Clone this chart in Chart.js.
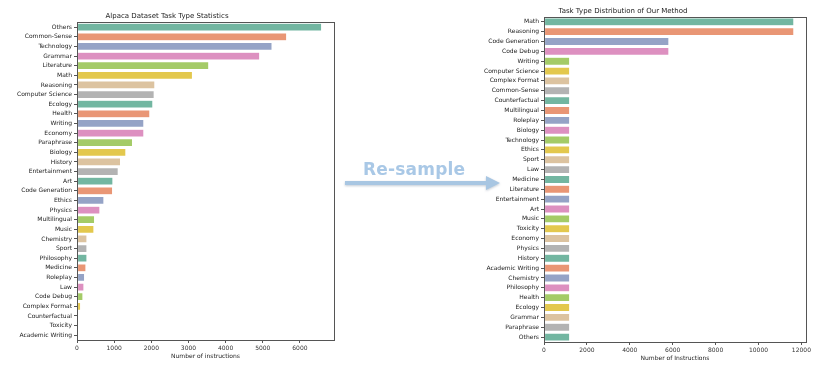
<!DOCTYPE html>
<html>
<head>
<meta charset="utf-8">
<script src="https://cdn.jsdelivr.net/npm/chart.js@4/dist/chart.umd.min.js"></script>
<style>
  body { margin: 0; background: #fff; }
  #wrap { position: relative; width: 834px; height: 372px; overflow: hidden; }
  #leftBox { position: absolute; left: 0; top: 0; width: 340px; height: 372px; }
  #rightBox { position: absolute; left: 440px; top: 0; width: 394px; height: 372px; }
  #resample { position: absolute; left: 363px; top: 159px; font-family: "DejaVu Sans", sans-serif; font-weight: bold;
    font-size: 17px; color: #a9c8e6; letter-spacing: 0.2px; }
  #arrow { position: absolute; left: 340px; top: 172px; }
</style>
</head>
<body>
<div id="wrap">
  <div id="leftBox"><canvas id="leftChart"></canvas></div>
  <div id="rightBox"><canvas id="rightChart"></canvas></div>
  <div id="resample">Re-sample</div>
  <svg id="arrow" width="170" height="24">
    <defs>
      <filter id="sh" x="-10%" y="-50%" width="120%" height="200%">
        <feDropShadow dx="0" dy="1" stdDeviation="1" flood-color="#9aa8b8" flood-opacity="0.6"/>
      </filter>
    </defs>
    <g filter="url(#sh)">
      <rect x="5" y="9" width="145" height="4" fill="#a8c6e2"/>
      <polygon points="146,4 160,11 146,18" fill="#a8c6e2"/>
    </g>
  </svg>
</div>
<script>
var leftLabels = ['Others', 'Common-Sense', 'Technology', 'Grammar', 'Literature', 'Math', 'Reasoning',
  'Computer Science', 'Ecology', 'Health', 'Writing', 'Economy', 'Paraphrase', 'Biology', 'History',
  'Entertainment', 'Art', 'Code Generation', 'Ethics', 'Physics', 'Multilingual', 'Music', 'Chemistry',
  'Sport', 'Philosophy', 'Medicine', 'Roleplay', 'Law', 'Code Debug', 'Complex Format', 'Counterfactual',
  'Toxicity', 'Academic Writing'];
var leftValues = [6586, 5645, 5251, 4919, 3548, 3109, 2097, 2079, 2043, 1962, 1801, 1801, 1496, 1317, 1174,
  1111, 968, 960, 726, 618, 475, 457, 269, 269, 269, 242, 206, 188, 161, 99, 36, 18, 9];
var leftTicks = [0, 1000, 2000, 3000, 4000, 5000, 6000];

var rightLabels = ['Math', 'Reasoning', 'Code Generation', 'Code Debug', 'Writing', 'Computer Science',
  'Complex Format', 'Common-Sense', 'Counterfactual', 'Multilingual', 'Roleplay', 'Biology', 'Technology',
  'Ethics', 'Sport', 'Law', 'Medicine', 'Literature', 'Entertainment', 'Art', 'Music', 'Toxicity', 'Economy',
  'Physics', 'History', 'Academic Writing', 'Chemistry', 'Philosophy', 'Health', 'Ecology', 'Grammar',
  'Paraphrase', 'Others'];
var rightValues = [11650, 11650, 5825, 5825, 1200, 1200, 1200, 1200, 1200, 1200, 1200, 1200, 1200, 1200,
  1200, 1200, 1200, 1200, 1200, 1200, 1200, 1200, 1200, 1200, 1200, 1200, 1200, 1200, 1200, 1200, 1200,
  1200, 1200];
var rightTicks = [0, 2000, 4000, 6000, 8000, 10000, 12000];

var palette = ['#72b6a1', '#e99675', '#95a3c6', '#dd90c0', '#a4cb67', '#e3c84d', '#dcc3a0', '#b3b3b3'];

var frame = {
  id: 'frame',
  afterDraw: function(chart) {
    var a = chart.chartArea, c = chart.ctx;
    c.save();
    c.strokeStyle = '#555';
    c.lineWidth = 1;
    c.strokeRect(Math.round(a.left) + 0.5, Math.round(a.top) + 0.5,
      Math.round(a.right - a.left), Math.round(a.bottom - a.top));
    c.restore();
  }
};

function makeChart(id, labels, values, ticks, xMax, title, opt) {
  var colors = labels.map(function(l, i) { return palette[i % palette.length]; });
  return new Chart(document.getElementById(id), {
    type: 'bar',
    data: {
      labels: labels,
      datasets: [{
        data: values,
        backgroundColor: colors,
        borderColor: '#ffffff',
        borderWidth: 0.6,
        borderSkipped: false,
        barPercentage: 0.82,
        categoryPercentage: 1.0
      }]
    },
    options: {
      indexAxis: 'y',
      responsive: true,
      maintainAspectRatio: false,
      animation: false,
      layout: { padding: { left: 0, right: opt.padRight, top: 0, bottom: 0 } },
      plugins: {
        legend: { display: false },
        tooltip: { enabled: false },
        title: {
          display: true,
          text: title,
          color: '#222',
          font: { family: 'DejaVu Sans', size: 7, weight: 'normal' },
          padding: { top: opt.titleTop, bottom: opt.titleBottom }
        }
      },
      scales: {
        x: {
          min: 0,
          max: xMax,
          afterBuildTicks: function(scale) {
            scale.ticks = ticks.map(function(v) { return { value: v }; });
          },
          afterFit: function(scale) { scale.height = opt.xHeight; },
          grid: { drawOnChartArea: false, drawTicks: true, tickLength: 3, color: '#555' },
          border: { display: false },
          ticks: {
            color: '#333',
            padding: 2,
            maxRotation: 0,
            font: { family: 'DejaVu Sans', size: 6 },
            callback: function(v) { return String(v); }
          },
          title: {
            display: true,
            text: opt.xTitle,
            color: '#222',
            font: { family: 'DejaVu Sans', size: 6 },
            padding: { top: 0, bottom: opt.xTitlePad }
          }
        },
        y: {
          afterFit: function(scale) { scale.width = opt.yWidth; },
          grid: { drawOnChartArea: false, drawTicks: true, tickLength: 3, color: '#555', offset: false },
          border: { display: false },
          ticks: {
            color: '#222',
            padding: 2,
            autoSkip: false,
            font: { family: 'DejaVu Sans', size: 6 }
          }
        }
      }
    },
    plugins: [frame]
  });
}

makeChart('leftChart', leftLabels, leftValues, leftTicks, 6917, 'Alpaca Dataset Task Type Statistics', {
  padRight: 6, titleTop: 12, titleBottom: 2, xHeight: 32, xTitlePad: 12, yWidth: 77,
  xTitle: 'Number of instructions'
});

makeChart('rightChart', rightLabels, rightValues, rightTicks, 12214, 'Task Type Distribution of Our Method', {
  padRight: 28, titleTop: 7, titleBottom: 1.5, xHeight: 30, xTitlePad: 10, yWidth: 104,
  xTitle: 'Number of Instructions'
});
</script>
</body>
</html>
